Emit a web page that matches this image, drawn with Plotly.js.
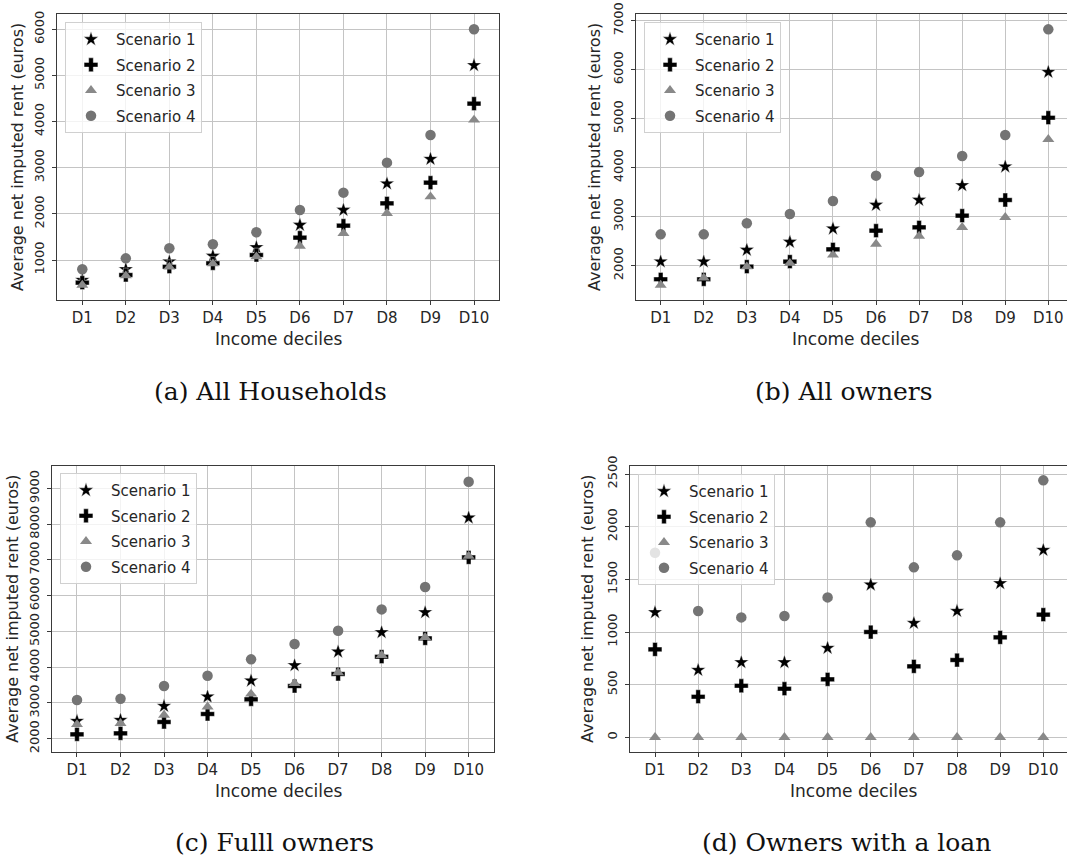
<!DOCTYPE html>
<html>
<head>
<meta charset="utf-8">
<script src="https://cdn.plot.ly/plotly-3.0.1.min.js"></script>
<style>html,body{margin:0;padding:0;background:#fff;overflow:hidden}#chart{width:1067px;height:858px}</style>
</head>
<body>
<div id="chart"></div>
<script>
// ---- data ----
const deciles = ['D1','D2','D3','D4','D5','D6','D7','D8','D9','D10'];
const scenarioNames = ['Scenario 1','Scenario 2','Scenario 3','Scenario 4'];
const panelCaptions = ['(a) All Households','(b) All owners','(c) Fulll owners','(d) Owners with a loan'];
const xTitle = 'Income deciles';
const yTitle = 'Average net imputed rent (euros)';

// (a) All households
const allHouseholds_s1 = [566, 798, 964, 1087, 1275, 1759, 2084, 2655, 3189, 5220];
const allHouseholds_s2 = [509, 675, 855, 928, 1108, 1484, 1744, 2228, 2676, 4389];
const allHouseholds_s3 = [458, 660, 850, 920, 1072, 1303, 1578, 2012, 2373, 4035];
const allHouseholds_s4 = [798, 1036, 1253, 1340, 1600, 2084, 2460, 3110, 3710, 6000];
// (b) All owners
const allOwners_s1 = [2082, 2082, 2320, 2483, 2755, 3238, 3340, 3639, 4020, 5952];
const allOwners_s2 = [1721, 1721, 1980, 2082, 2333, 2714, 2782, 3020, 3340, 5020];
const allOwners_s3 = [1605, 1750, 1980, 2050, 2218, 2442, 2605, 2782, 2986, 4578];
const allOwners_s4 = [2639, 2639, 2864, 3054, 3320, 3837, 3912, 4238, 4667, 6823];
// (c) Full owners
const fullOwners_s1 = [2494, 2522, 2913, 3174, 3622, 4050, 4432, 4973, 5532, 8179];
const fullOwners_s2 = [2121, 2149, 2466, 2690, 3100, 3472, 3808, 4293, 4805, 7070];
const fullOwners_s3 = [2400, 2430, 2660, 2890, 3250, 3550, 3850, 4330, 4833, 7107];
const fullOwners_s4 = [3081, 3118, 3472, 3761, 4218, 4647, 5020, 5616, 6240, 9185];
// (d) Owners with a loan
const loanOwners_s1 = [1187, 639, 712, 712, 848, 1449, 1085, 1199, 1462, 1778];
const loanOwners_s2 = [835, 386, 490, 462, 551, 1000, 674, 734, 949, 1165];
const loanOwners_s3 = [0, 0, 0, 0, 0, 0, 0, 0, 0, 0];
const loanOwners_s4 = [1753, 1199, 1139, 1152, 1329, 2041, 1614, 1728, 2041, 2440];

// ---- styling ----
const W = 1067, H = 858;
const markerStyles = [
  {symbol:'star', size:11, color:'#000000', line:{color:'#ffffff', width:0.4}},
  {symbol:'cross', size:11.5, color:'#000000', line:{color:'#ffffff', width:0.4}},
  {symbol:'triangle-up', size:10.5, color:'#898989', line:{width:0}},
  {symbol:'circle', size:10.5, color:'#747474', line:{width:0}}
];
const panels = [
  {series:[allHouseholds_s1, allHouseholds_s2, allHouseholds_s3, allHouseholds_s4],
   px:[56.7, 499], py:[14, 300], xr:[-0.588, 9.574], yr:[133, 6332], dt:1000, mirrorY:true,
   legend:[65, 22], ytitleX:18, xtitleX:278, xtitleY:339, cap:[270, 391]},
  {series:[allOwners_s1, allOwners_s2, allOwners_s3, allOwners_s4],
   px:[636, 1067], py:[14, 300], xr:[-0.573, 9.434], yr:[1299, 7136], dt:1000, mirrorY:false,
   legend:[644, 22], ytitleX:595, xtitleX:855, xtitleY:339, cap:[844, 391]},
  {series:[fullOwners_s1, fullOwners_s2, fullOwners_s3, fullOwners_s4],
   px:[51.7, 494], py:[465.7, 751.7], xr:[-0.581, 9.582], yr:[1636, 9634], dt:1000, mirrorY:true,
   legend:[60, 473], ytitleX:13, xtitleX:278, xtitleY:791, cap:[274, 842]},
  {series:[loanOwners_s1, loanOwners_s2, loanOwners_s3, loanOwners_s4],
   px:[630, 1067], py:[465.7, 751.7], xr:[-0.58, 9.549], yr:[-136, 2579], dt:500, mirrorY:false,
   legend:[638, 474], ytitleX:588, xtitleX:853, xtitleY:791, cap:[846, 842]}
];

const traces = [];
const layout = {
  width: W, height: H,
  margin: {l:0, r:0, t:0, b:0},
  paper_bgcolor: '#ffffff', plot_bgcolor: '#ffffff',
  font: {family: 'DejaVu Sans', color: '#262626'},
  showlegend: true,
  annotations: []
};

panels.forEach((p, i) => {
  const n = i + 1;
  const xa = 'xaxis' + (n === 1 ? '' : n), ya = 'yaxis' + (n === 1 ? '' : n);
  const lg = 'legend' + (n === 1 ? '' : n);
  p.series.forEach((vals, k) => {
    const m = markerStyles[k];
    traces.push({
      type: 'scatter', mode: 'markers',
      x: deciles, y: vals, name: scenarioNames[k],
      xaxis: 'x' + (n === 1 ? '' : n), yaxis: 'y' + (n === 1 ? '' : n),
      legend: lg, legendgroup: 'p' + n + 's' + k,
      marker: {symbol: m.symbol, size: m.size, color: m.color, line: m.line},
      cliponaxis: false, hoverinfo: 'x+y+name'
    });
  });
  layout[xa] = {
    domain: [p.px[0] / W, p.px[1] / W],
    anchor: 'y' + (n === 1 ? '' : n),
    type: 'category', categoryorder: 'array', categoryarray: deciles,
    range: p.xr, showgrid: true, gridcolor: '#c4c4c4', gridwidth: 1,
    showline: true, linecolor: '#3a3a3a', linewidth: 1, mirror: true,
    ticks: 'outside', ticklen: 4, tickcolor: '#3a3a3a',
    tickfont: {size: 15, color: '#262626'}, zeroline: false
  };
  layout[ya] = {
    domain: [1 - p.py[1] / H, 1 - p.py[0] / H],
    anchor: 'x' + (n === 1 ? '' : n),
    range: p.yr, dtick: p.dt, tick0: 0, showgrid: true, gridcolor: '#c4c4c4', gridwidth: 1,
    showline: true, linecolor: '#3a3a3a', linewidth: 1, mirror: p.mirrorY,
    ticks: 'outside', ticklen: 4, tickcolor: '#3a3a3a', tickangle: -90,
    tickfont: {size: 13, color: '#262626'}, zeroline: false, ticklabelstandoff: 3
  };
  layout[lg] = {
    x: p.legend[0] / W, y: 1 - p.legend[1] / H, xanchor: 'left', yanchor: 'top',
    bgcolor: 'rgba(255,255,255,0.8)', bordercolor: '#d0d0d0', borderwidth: 1,
    font: {size: 15, color: '#262626'}, itemwidth: 40,
    traceorder: 'grouped', tracegroupgap: 3, itemclick: false
  };
  layout.annotations.push({
    text: yTitle, xref: 'paper', yref: 'paper', x: p.ytitleX / W, y: 1 - ((p.py[0] + p.py[1]) / 2) / H,
    xanchor: 'center', yanchor: 'middle', textangle: -90, showarrow: false,
    font: {size: 16, color: '#262626'}
  });
  layout.annotations.push({
    text: xTitle, xref: 'paper', yref: 'paper', x: p.xtitleX / W, y: 1 - p.xtitleY / H,
    xanchor: 'center', yanchor: 'middle', showarrow: false,
    font: {size: 17, color: '#262626'}
  });
  layout.annotations.push({
    text: panelCaptions[i], xref: 'paper', yref: 'paper', x: p.cap[0] / W, y: 1 - p.cap[1] / H,
    xanchor: 'center', yanchor: 'middle', showarrow: false,
    font: {size: 25, family: 'DejaVu Serif', color: '#111111'}
  });
});

Plotly.newPlot('chart', traces, layout, {displayModeBar: false, staticPlot: true});
</script>
</body>
</html>
